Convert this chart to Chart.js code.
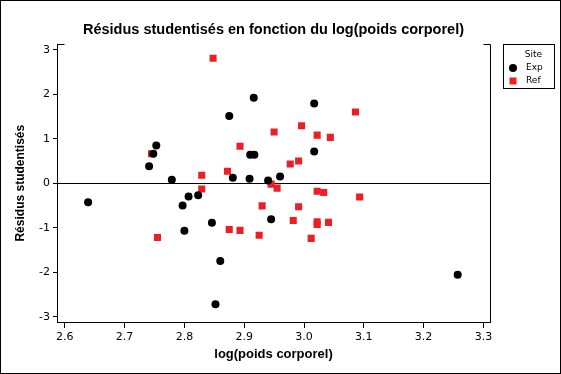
<!DOCTYPE html>
<html lang="fr">
<head>
<meta charset="UTF-8">
<title>Résidus studentisés en fonction du log(poids corporel)</title>
<style>
  html, body { margin: 0; padding: 0; background: #fff; }
</style>
<script src="https://cdn.jsdelivr.net/npm/chart.js"></script>
</head>
<body>
<canvas id="myChart" width="561" height="374"></canvas>

<script>
  // Site = Exp (black circles)
  const expX = [2.639, 2.741, 2.748, 2.753, 2.779, 2.797, 2.800, 2.807, 2.823, 2.846,
                2.852, 2.860, 2.875, 2.881, 2.909, 2.910, 2.916, 2.917, 2.940, 2.945,
                2.960, 3.017, 3.017, 3.257];
  const expY = [-0.43, 0.38, 0.66, 0.85, 0.08, -0.50, -1.07, -0.30, -0.27, -0.89,
                -2.72, -1.75, 1.51, 0.12, 0.10, 0.64, 1.92, 0.64, 0.06, -0.81,
                0.15, 1.79, 0.71, -2.06];

  // Site = Ref (red squares)
  const refX = [2.745, 2.755, 2.829, 2.829, 2.848, 2.872, 2.875, 2.893, 2.893, 2.925,
                2.930, 2.945, 2.950, 2.955, 2.977, 2.982, 2.991, 2.991, 2.996, 3.012,
                3.022, 3.022, 3.022, 3.022, 3.033, 3.041, 3.044, 3.086, 3.093];
  const refY = [0.66, -1.22, 0.18, -0.13, 2.81, 0.27, -1.04, 0.83, -1.06, -1.17,
                -0.51, -0.02, 1.15, -0.11, 0.43, -0.84, 0.50, -0.53, 1.29, -1.24,
                1.08, -0.18, -0.87, -0.93, -0.21, -0.88, 1.03, 1.60, -0.31];

  const xTicks = [2.6, 2.7, 2.8, 2.9, 3.0, 3.1, 3.2, 3.3];
  const yTicks = [-3, -2, -1, 0, 1, 2, 3];

  const RED = '#ec1f27';
  const tickFont = { family: 'DejaVu Sans', size: 11 };

  // right border, little top caps, legend box and outer frame
  const framePlugin = {
    id: 'frame',
    afterDraw(chart) {
      const c = chart.ctx;
      const a = chart.chartArea;
      c.save();
      c.strokeStyle = '#000';
      c.lineWidth = 1;
      c.beginPath();
      const r = Math.round(a.right) + 0.5, t = Math.round(a.top) + 0.5, l = Math.round(a.left) + 0.5;
      c.moveTo(r, t); c.lineTo(r, Math.round(a.bottom) + 0.5);
      c.moveTo(l, t); c.lineTo(l + 7, t);
      c.moveTo(r - 7, t); c.lineTo(r, t);
      c.stroke();

      // legend
      c.strokeRect(503.5, 44.5, 51, 44);
      c.fillStyle = '#000';
      c.font = '9px "DejaVu Sans"';
      c.textBaseline = 'middle';
      c.textAlign = 'right';
      c.fillText('Site', 542, 55);
      c.textAlign = 'left';
      c.fillText('Exp', 526, 68);
      c.fillText('Ref', 526, 81);
      c.beginPath();
      c.arc(513, 68, 4, 0, Math.PI * 2);
      c.fill();
      c.fillStyle = RED;
      c.fillRect(509.5, 77.5, 7, 7);

      // outer frame
      c.strokeStyle = '#000';
      c.strokeRect(0.5, 0.5, 560, 373);
      c.restore();
    }
  };

  const ctx = document.getElementById('myChart');

  const chart = new Chart(ctx, {
    type: 'scatter',
    data: {
      datasets: [
        {
          label: 'Exp',
          data: expX.map((x, i) => ({ x: x, y: expY[i] })),
          pointStyle: 'circle',
          pointRadius: 4,
          backgroundColor: '#000',
          borderWidth: 0,
        },
        {
          label: 'Ref',
          data: refX.map((x, i) => ({ x: x, y: refY[i] })),
          pointStyle: 'rect',
          pointRadius: 5,
          backgroundColor: RED,
          borderWidth: 0,
        },
      ]
    },
    options: {
      responsive: false,
      animation: false,
      events: [],
      layout: { padding: { left: 0, right: 71, top: 0, bottom: 0 } },
      plugins: {
        legend: { display: false },
        tooltip: { enabled: false },
        title: {
          display: true,
          fullSize: false,
          text: 'Résidus studentisés en fonction du log(poids corporel)',
          color: '#000',
          font: { family: 'Liberation Sans', size: 14.5, weight: 'bold' },
          padding: { top: 21, bottom: 6 },
        },
      },
      scales: {
        x: {
          type: 'linear',
          min: 2.587,
          max: 3.311,
          afterBuildTicks: (axis) => { axis.ticks = xTicks.map(v => ({ value: v })); },
          afterFit: (axis) => { axis.height = 52; },
          ticks: {
            color: '#000',
            font: tickFont,
            padding: 3,
            maxRotation: 0,
            callback: (v) => Number(v).toFixed(1),
          },
          grid: {
            drawOnChartArea: false,
            tickLength: 6,
            tickColor: '#000',
          },
          border: { color: '#000', width: 1 },
          title: {
            display: true,
            text: 'log(poids corporel)',
            color: '#000',
            font: { family: 'Liberation Sans', size: 13, weight: 'bold' },
            padding: { top: 0, bottom: 12 },
          },
        },
        y: {
          min: -3.12,
          max: 3.12,
          afterBuildTicks: (axis) => { axis.ticks = yTicks.map(v => ({ value: v })); },
          afterFit: (axis) => { axis.width = 57; },
          ticks: {
            color: '#000',
            font: tickFont,
            padding: 3,
          },
          grid: {
            color: (c) => (c.tick && c.tick.value === 0 ? '#000' : 'rgba(0,0,0,0)'),
            tickColor: '#000',
            tickLength: 4,
            lineWidth: 1,
          },
          border: { color: '#000', width: 1 },
          title: {
            display: true,
            text: 'Résidus studentisés',
            color: '#000',
            font: { family: 'Liberation Sans', size: 12, weight: 'bold' },
            padding: { top: 13, bottom: 0 },
          },
        },
      },
    },
    plugins: [framePlugin],
  });
</script>
</body>
</html>
